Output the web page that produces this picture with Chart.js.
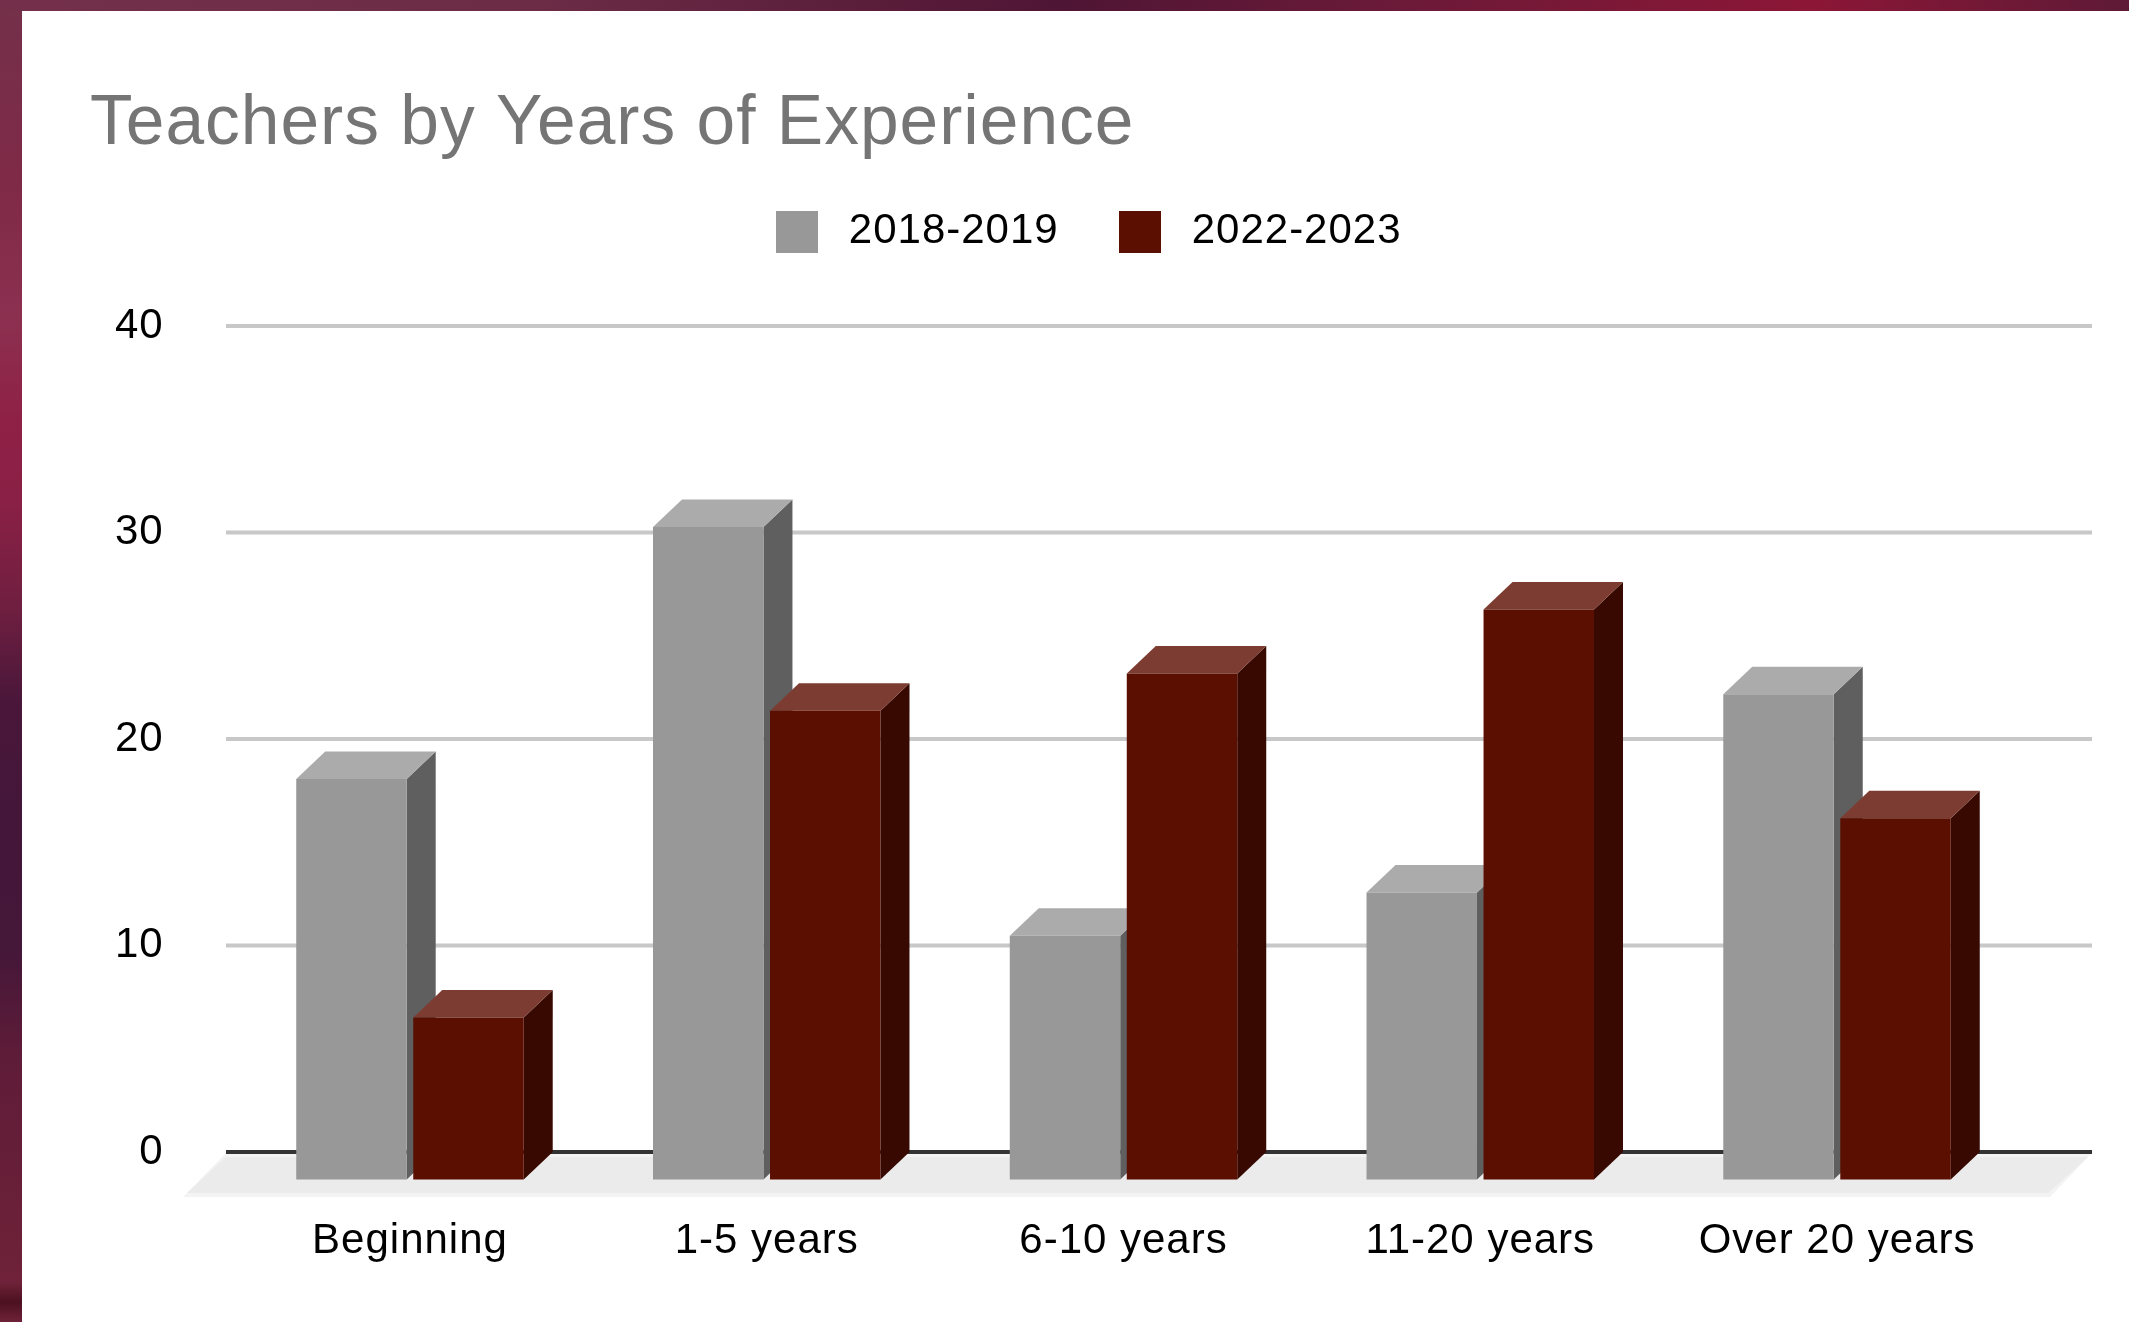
<!DOCTYPE html>
<html>
<head>
<meta charset="utf-8">
<title>Teachers by Years of Experience</title>
<script src="https://cdn.jsdelivr.net/npm/chart.js@4"></script>
<style>
  html, body { margin: 0; padding: 0; width: 2129px; height: 1322px; overflow: hidden; background: #6a1f3c; }
  #strip-left { position: absolute; left: 0; top: 0; width: 22px; height: 1322px;
    background: linear-gradient(180deg, #74304a 0%, #7f2a47 14%, #8c3050 24%, #8f2046 32%, #8a2045 38%, #6f1f40 46%, #4a173a 53%, #43163a 62%, #451739 72%, #5f1c38 80%, #6f2239 97%, #4c1120 98.5%, #6f2239 100%); }
  #strip-top { position: absolute; left: 0; top: 0; width: 2129px; height: 11px;
    background: linear-gradient(90deg, #74304a 0%, #6c2c46 25%, #4f1534 50%, #6a1a38 65%, #8c1636 85%, #5e1a36 100%); }
  #panel { position: absolute; left: 22px; top: 11px; right: 0; bottom: 0; background: #fff; }
  #chart { position: absolute; left: 0; top: 0; }
</style>
</head>
<body>
<div id="strip-left"></div>
<div id="strip-top"></div>
<div id="panel"></div>
<canvas id="chart" width="2129" height="1322"></canvas>
<script>
const categories = ['Beginning', '1-5 years', '6-10 years', '11-20 years', 'Over 20 years'];
const seriesNames = ['2018-2019', '2022-2023'];
const values2018 = [19.4, 31.6, 11.8, 13.9, 23.5];
const values2022 = [7.85, 22.7, 24.5, 27.6, 17.5];
const yTicks = [0, 10, 20, 30, 40];

// face colours: front, top, side
const greyFaces = ['#989898', '#ababab', '#5f5f5f'];
const redFaces = ['#5b0f00', '#7c3c32', '#370900'];
const faces = [greyFaces, redFaces];

const depthX = 29;
const depthY = 27.5;

function swatch(color) {
  const c = document.createElement('canvas');
  c.width = 42;
  c.height = 42;
  const g = c.getContext('2d');
  g.fillStyle = color;
  g.fillRect(0, 0, 42, 42);
  return c;
}

function poly(ctx, color, pts) {
  ctx.fillStyle = color;
  ctx.beginPath();
  pts.forEach((p, i) => i ? ctx.lineTo(p[0], p[1]) : ctx.moveTo(p[0], p[1]));
  ctx.closePath();
  ctx.fill();
}

// the source text is a bit spaced out
function spaceText(chart) { chart.ctx.letterSpacing = '1px'; }

const wall3d = {
  id: 'wall3d',
  beforeInit(chart) {
    // leaves room under the legend
    const fit = chart.legend.fit;
    chart.legend.fit = function () {
      fit.call(this);
      this.height += 63.5;
    };
  },
  beforeUpdate: spaceText,
  beforeLayout: spaceText,
  beforeDraw: spaceText,
  afterLayout(chart) {
    chart.legend.left += 31;
    chart.legend.right += 31;
  },
  beforeDatasetsDraw(chart) {
    const { ctx, chartArea: a, scales: { y } } = chart;
    const zero = y.getPixelForValue(0);
    const wallLeft = a.left - 5.6;
    const wallRight = a.right + 76.6;
    // floor
    poly(ctx, '#f3f3f3', [[wallLeft, zero + 1], [wallRight, zero + 1], [wallRight - 42, zero + 45], [wallLeft - 43, zero + 45]]);
    poly(ctx, '#ebebeb', [[wallLeft, zero + 5], [wallRight - 4, zero + 5], [wallRight - 44, zero + 41], [wallLeft - 39, zero + 41]]);
    // grid lines on the back wall
    y.ticks.forEach(t => {
      const py = y.getPixelForValue(t.value);
      ctx.fillStyle = t.value === 0 ? '#333333' : '#c8c8c8';
      ctx.fillRect(wallLeft, py - 2, wallRight - wallLeft, 4);
    });
    // chart.js paints the last dataset first, here red has to end up in front of grey
    chart.data.datasets.forEach((d, i) => {
      const meta = chart.getDatasetMeta(i);
      const f = faces[i];
      meta.data.forEach(bar => {
        const p = bar.getProps(['x', 'y', 'base', 'width'], true);
        const l = p.x - p.width / 2;
        const r = p.x + p.width / 2;
        const top = p.y + depthY;
        const bottom = p.base + depthY;
        poly(ctx, f[2], [[r, top], [r + depthX, top - depthY], [r + depthX, bottom - depthY], [r, bottom]]);
        poly(ctx, f[1], [[l, top], [l + depthX, top - depthY], [r + depthX, top - depthY], [r, top]]);
      });
      ctx.save();
      ctx.translate(0, depthY);
      meta.controller.draw();
      ctx.restore();
    });
  },
  beforeDatasetDraw() {
    return false;
  }
};

new Chart(document.getElementById('chart').getContext('2d'), {
  type: 'bar',
  data: {
    labels: categories,
    datasets: [
      { label: seriesNames[0], data: values2018, backgroundColor: greyFaces[0] },
      { label: seriesNames[1], data: values2022, backgroundColor: redFaces[0] }
    ]
  },
  plugins: [wall3d],
  options: {
    responsive: false,
    animation: false,
    layout: { padding: { left: 90, right: 113.6, top: 0, bottom: 0 } },
    datasets: { bar: { categoryPercentage: 0.656, barPercentage: 0.944, borderWidth: 0 } },
    plugins: {
      tooltip: { enabled: false },
      title: {
        display: true,
        text: 'Teachers by Years of Experience',
        align: 'start',
        color: '#757575',
        font: { family: '"Liberation Sans"', size: 69.5, weight: 'normal', lineHeight: 1 },
        padding: { top: 90, bottom: 1 }
      },
      legend: {
        position: 'top',
        labels: {
          usePointStyle: true,
          pointStyleWidth: 62,
          padding: 50,
          color: '#000',
          font: { family: '"Liberation Sans"', size: 42 },
          generateLabels: chart => chart.data.datasets.map((d, i) => ({
            text: d.label,
            pointStyle: swatch(d.backgroundColor),
            datasetIndex: i,
            fontColor: '#000'
          }))
        }
      }
    },
    scales: {
      x: {
        grid: { display: false, drawTicks: false },
        border: { display: false },
        ticks: { color: '#000', padding: 64, maxRotation: 0, font: { family: '"Liberation Sans"', size: 42 } },
        afterFit(s) { s.height = 170; }
      },
      y: {
        min: yTicks[0],
        max: yTicks[yTicks.length - 1],
        grid: { display: false, drawTicks: false },
        border: { display: false },
        afterBuildTicks(s) { s.ticks = yTicks.map(v => ({ value: v })); },
        ticks: { color: '#000', padding: 68, font: { family: '"Liberation Sans"', size: 42 } },
        afterFit(s) { s.width = 141.6; }
      }
    }
  }
});
</script>
</body>
</html>
